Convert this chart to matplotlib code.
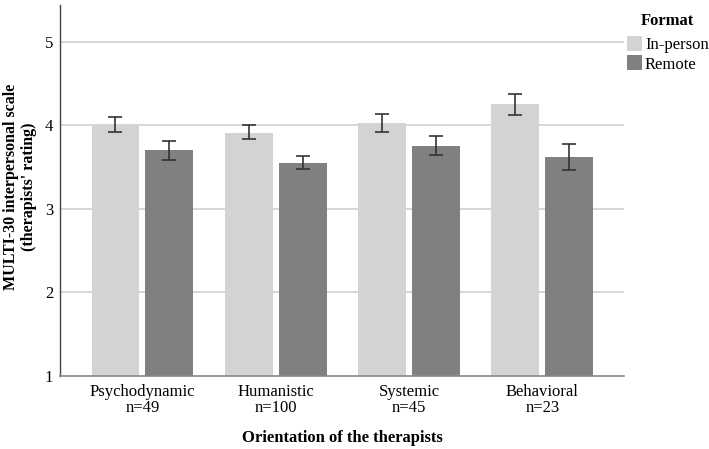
import matplotlib.pyplot as plt
import numpy as np

# data
orientations = ["Psychodynamic\nn=49", "Humanistic\nn=100", "Systemic\nn=45", "Behavioral\nn=23"]
inperson = [4.00, 3.91, 4.03, 4.25]
inperson_lo = [3.92, 3.84, 3.92, 4.12]
inperson_hi = [4.10, 4.00, 4.14, 4.38]
remote = [3.70, 3.55, 3.75, 3.62]
remote_lo = [3.59, 3.48, 3.65, 3.46]
remote_hi = [3.81, 3.63, 3.87, 3.78]

plt.rcParams["font.family"] = ["Liberation Serif", "DejaVu Serif"]

fig = plt.figure(figsize=(7.09, 4.49), dpi=100)
ax = fig.add_axes([0.0846, 0.1626, 0.7955, 0.8263])

x = np.arange(len(orientations))
w = 0.36
off = 0.2025

err_in = [np.array(inperson) - np.array(inperson_lo), np.array(inperson_hi) - np.array(inperson)]
err_re = [np.array(remote) - np.array(remote_lo), np.array(remote_hi) - np.array(remote)]

ax.bar(x - off, np.array(inperson) - 1, w, bottom=1, color="#d3d3d3", label="In-person", zorder=2)
ax.bar(x + off, np.array(remote) - 1, w, bottom=1, color="#808080", label="Remote", zorder=2)
ax.errorbar(x - off, inperson, yerr=err_in, fmt="none", ecolor="#333333", elinewidth=1.2,
            capsize=5, capthick=1.2, zorder=3)
ax.errorbar(x + off, remote, yerr=err_re, fmt="none", ecolor="#333333", elinewidth=1.2,
            capsize=5, capthick=1.2, zorder=3)

ax.set_xlim(-0.619, 3.613)
ax.set_ylim(1, 5.44)
ax.set_yticks([1, 2, 3, 4, 5])
ax.set_xticks(x)
ax.set_xticklabels(orientations, fontsize=12, linespacing=0.95)
ax.tick_params(axis="y", labelsize=12, length=0, pad=5)
ax.tick_params(axis="x", length=0, pad=6)
for yv in [2, 3, 4, 5]:
    ax.axhline(yv, color="#d0d0d0", lw=1.2, zorder=1)

for s in ["top", "right"]:
    ax.spines[s].set_visible(False)
ax.spines["left"].set_color("#444444")
ax.spines["bottom"].set_color("#888888")
ax.spines["left"].set_linewidth(1.0)
ax.spines["bottom"].set_linewidth(1.2)

ax.set_ylabel("MULTI-30 interpersonal scale\n(therapists' rating)", fontsize=11.5,
              fontweight="bold", linespacing=1.15)
ax.yaxis.set_label_coords(-0.041, 0.51)
ax.set_xlabel("Orientation of the therapists", fontsize=12, fontweight="bold")
ax.xaxis.set_label_coords(0.5, -0.145)

leg = ax.legend(loc="upper left", bbox_to_anchor=(0.872, 0.99), bbox_transform=fig.transFigure,
                frameon=False, fontsize=12, title="Format", handlelength=0.9, handleheight=1.0,
                handletextpad=0.2, labelspacing=0.15, borderpad=0)
leg.get_title().set_fontweight("bold")
leg.get_title().set_fontsize(12)
leg._legend_box.sep = 5

fig.savefig("out.png", dpi=100)
